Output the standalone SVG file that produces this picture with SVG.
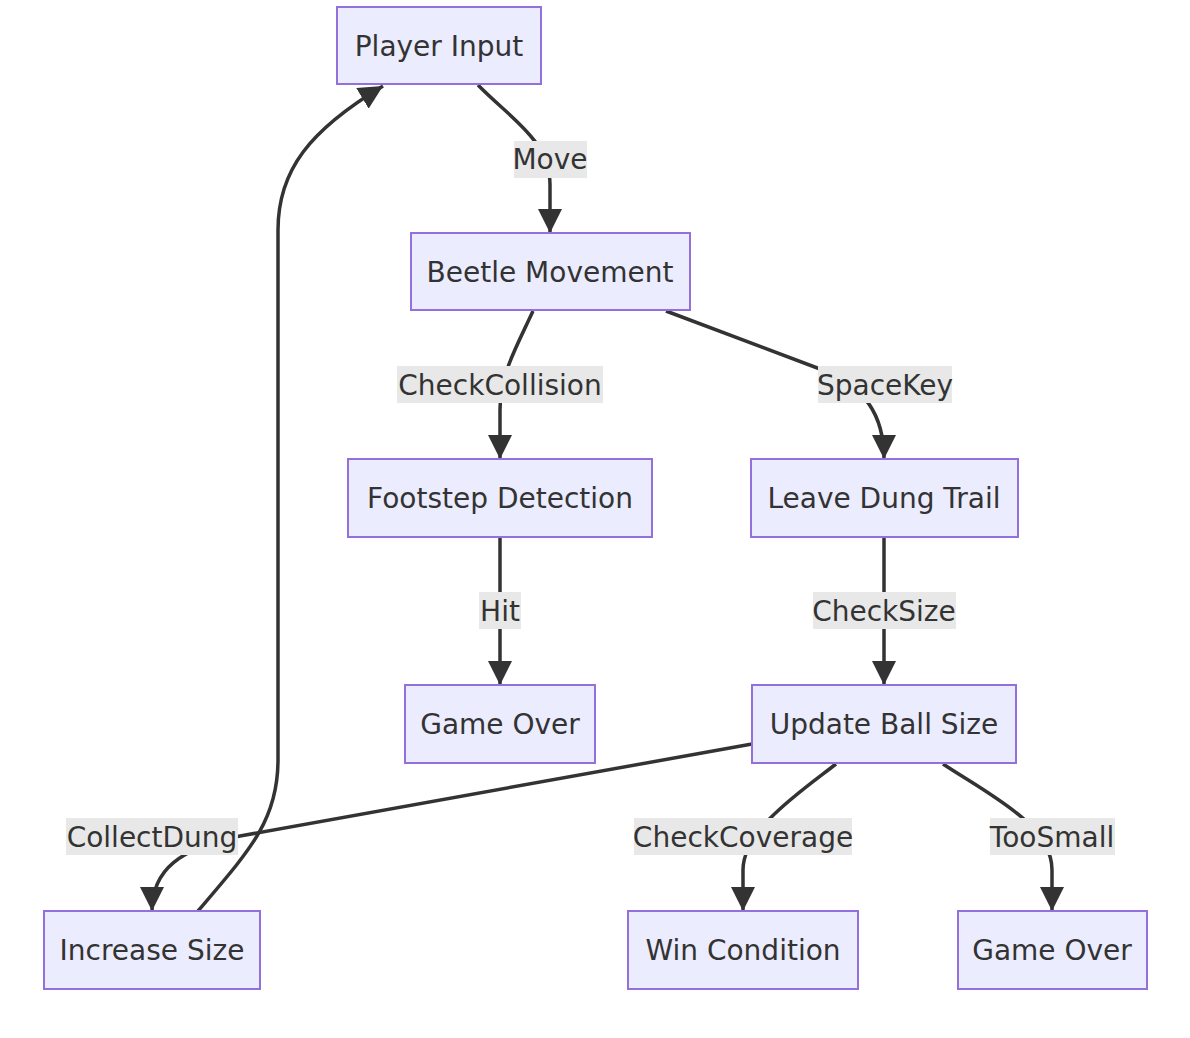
<svg xmlns="http://www.w3.org/2000/svg" width="1190" height="1038" viewBox="0 0 1190 1038">
<style>
.node rect{fill:#ECECFF;stroke:#9370DB;stroke-width:2}
text{font-family:"DejaVu Sans",sans-serif;font-size:28px;fill:#333;text-anchor:middle;dominant-baseline:central}
.edge{fill:none;stroke:#333;stroke-width:3.5;marker-end:url(#arrow)}
.lbl rect{fill:#e8e8e8}
</style>
<defs>
<marker id="arrow" markerUnits="userSpaceOnUse" markerWidth="24" markerHeight="24" refX="24" refY="12" orient="auto" viewBox="0 0 24 24">
<path d="M0,0 L24,12 L0,24 z" fill="#333"/>
</marker>
</defs>
<rect width="1190" height="1038" fill="#fff"/>
<g id="edges">
<path class="edge" d="M478,85 C510,118 550,140 550,185 L550,233"/>
<path class="edge" d="M533,311 C515,350 500,375 500,410 L500,459"/>
<path class="edge" d="M666,311 L820,369 C865,386 884,415 884,459"/>
<path class="edge" d="M500,537 L500,685"/>
<path class="edge" d="M884,537 L884,685"/>
<path class="edge" d="M752,744 L240,836 C180,848 152,870 152,911"/>
<path class="edge" d="M836,764 C800,792 743,830 743,870 L743,911"/>
<path class="edge" d="M943,764 C990,795 1052,825 1052,870 L1052,911"/>
<path class="edge" d="M198,911 C250,850 278,820 278,760 L278,230 C278,170 310,130 383,86"/>
</g>
<g id="edge-labels">
<g class="lbl"><rect x="514" y="141" width="73" height="37"/><text x="550" y="159">Move</text></g>
<g class="lbl"><rect x="397" y="366" width="206" height="37"/><text x="500" y="385">CheckCollision</text></g>
<g class="lbl"><rect x="818" y="366" width="134" height="37"/><text x="885" y="385">SpaceKey</text></g>
<g class="lbl"><rect x="479" y="592" width="42" height="37"/><text x="500" y="611">Hit</text></g>
<g class="lbl"><rect x="813" y="592" width="143" height="37"/><text x="884" y="611">CheckSize</text></g>
<g class="lbl"><rect x="66" y="818" width="172" height="37"/><text x="152" y="837">CollectDung</text></g>
<g class="lbl"><rect x="634" y="818" width="218" height="37"/><text x="743" y="837">CheckCoverage</text></g>
<g class="lbl"><rect x="990" y="818" width="125" height="37"/><text x="1052" y="837">TooSmall</text></g>
</g>
<g id="n-player" class="node"><rect x="337" y="7" width="204" height="77"/><text x="439" y="46">Player Input</text></g>
<g id="n-beetle" class="node"><rect x="411" y="233" width="279" height="77"/><text x="550" y="272">Beetle Movement</text></g>
<g id="n-footstep" class="node"><rect x="348" y="459" width="304" height="78"/><text x="500" y="498">Footstep Detection</text></g>
<g id="n-trail" class="node"><rect x="751" y="459" width="267" height="78"/><text x="884" y="498">Leave Dung Trail</text></g>
<g id="n-gameover1" class="node"><rect x="405" y="685" width="190" height="78"/><text x="500" y="724">Game Over</text></g>
<g id="n-update" class="node"><rect x="752" y="685" width="264" height="78"/><text x="884" y="724">Update Ball Size</text></g>
<g id="n-increase" class="node"><rect x="44" y="911" width="216" height="78"/><text x="152" y="950">Increase Size</text></g>
<g id="n-win" class="node"><rect x="628" y="911" width="230" height="78"/><text x="743" y="950">Win Condition</text></g>
<g id="n-gameover2" class="node"><rect x="958" y="911" width="189" height="78"/><text x="1052" y="950">Game Over</text></g>
</svg>
